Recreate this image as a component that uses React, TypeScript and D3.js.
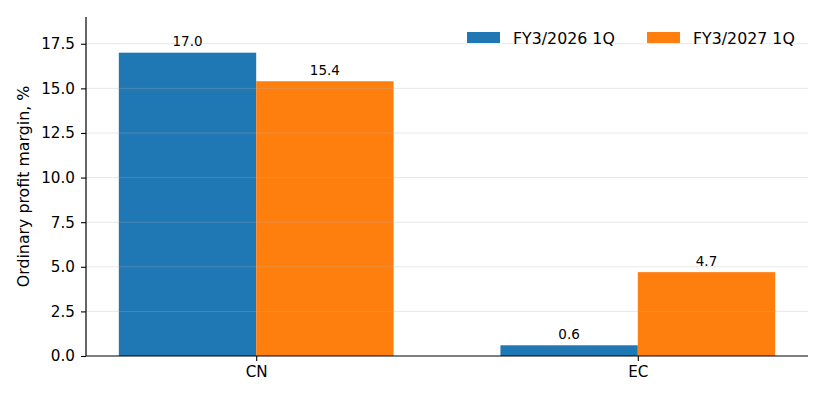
import { useEffect, useRef } from "react";
import * as d3 from "d3";

const categories = ["CN", "EC"];
const seriesNames = ["FY3/2026 1Q", "FY3/2027 1Q"];
const fy2026 = [17.0, 0.6];
const fy2027 = [15.4, 4.7];
const yTicks = [0, 2.5, 5, 7.5, 10, 12.5, 15, 17.5];
const colors = ["#1f77b4", "#ff7f0e"];

const W = 826,
  H = 401;
const margin = { left: 86, right: 18, top: 17, bottom: 45 };
const font = "DejaVu Sans, sans-serif";

export default function App() {
  const ref = useRef<SVGSVGElement>(null);

  useEffect(() => {
    const svg = d3.select(ref.current);
    svg.selectAll("*").remove();

    const x0 = margin.left,
      x1 = W - margin.right,
      y0 = H - margin.bottom,
      y1 = margin.top;
    const barW = 0.36;
    const x = d3.scaleLinear().domain([-0.446, 1.446]).range([x0, x1]);
    const y = d3.scaleLinear().domain([0, 19]).range([y0, y1]);

    const series = [fy2026, fy2027];

    const g = svg.append("g");

    series.forEach((vals, si) => {
      g.selectAll(`.bar${si}`)
        .data(vals)
        .enter()
        .append("rect")
        .attr("x", (_, i) => x(i - barW + si * barW))
        .attr("width", x(barW) - x(0))
        .attr("y", (d) => y(d))
        .attr("height", (d) => y(0) - y(d))
        .attr("fill", colors[si]);

      g.selectAll(`.lab${si}`)
        .data(vals)
        .enter()
        .append("text")
        .attr("x", (_, i) => x(i - barW / 2 + si * barW))
        .attr("y", (d) => y(d) - 6.5)
        .attr("text-anchor", "middle")
        .attr("font-family", font)
        .attr("font-size", 13.5)
        .attr("fill", "#000")
        .text((d) => d.toFixed(1));
    });

    // grid on top of bars, faint
    g.selectAll(".grid")
      .data(yTicks.filter((t) => t > 0))
      .enter()
      .append("line")
      .attr("x1", x0)
      .attr("x2", x1)
      .attr("y1", (d) => y(d))
      .attr("y2", (d) => y(d))
      .attr("stroke", "#b0b0b0")
      .attr("stroke-opacity", 0.3)
      .attr("stroke-width", 1);

    // y axis
    const yAxis = svg
      .append("g")
      .attr("transform", `translate(${x0},0)`)
      .call(
        d3
          .axisLeft(y)
          .tickValues(yTicks)
          .tickFormat((d) => (d as number).toFixed(1))
          .tickSize(5)
          .tickPadding(6)
      );
    yAxis
      .select(".domain")
      .attr("d", `M0,${y0}V${y1}`)
      .attr("stroke", "#000")
      .attr("stroke-width", 1.2);
    yAxis.selectAll(".tick line").attr("stroke-width", 1.1);
    yAxis
      .selectAll("text")
      .attr("font-family", font)
      .attr("font-size", 15.2)
      .attr("fill", "#000");

    // x axis
    const xAxis = svg
      .append("g")
      .attr("transform", `translate(0,${y0})`)
      .call(
        d3
          .axisBottom(x)
          .tickValues([0, 1])
          .tickFormat((d) => categories[d as number])
          .tickSize(5)
          .tickPadding(5.5)
      );
    xAxis
      .select(".domain")
      .attr("d", `M${x0},0H${x1}`)
      .attr("stroke", "#000")
      .attr("stroke-width", 1.2);
    xAxis.selectAll(".tick line").attr("stroke-width", 1.1);
    xAxis
      .selectAll("text")
      .attr("font-family", font)
      .attr("font-size", 15.2)
      .attr("fill", "#000");

    svg
      .append("text")
      .attr("transform", `translate(29,${(y0 + y1) / 2}) rotate(-90)`)
      .attr("text-anchor", "middle")
      .attr("font-family", font)
      .attr("font-size", 15.8)
      .attr("fill", "#000")
      .text("Ordinary profit margin, %");

    // legend
    const legendX = [467, 647];
    const leg = svg.append("g");
    seriesNames.forEach((name, i) => {
      leg
        .append("rect")
        .attr("x", legendX[i])
        .attr("y", 32)
        .attr("width", 33)
        .attr("height", 11)
        .attr("fill", colors[i]);
      leg
        .append("text")
        .attr("x", legendX[i] + 46)
        .attr("y", 43.5)
        .attr("font-family", font)
        .attr("font-size", 15.8)
        .attr("fill", "#000")
        .text(name);
    });
  }, []);

  return (
    <svg
      ref={ref}
      width={W}
      height={H}
      style={{ display: "block", position: "absolute", left: 0, top: 0 }}
    />
  );
}
